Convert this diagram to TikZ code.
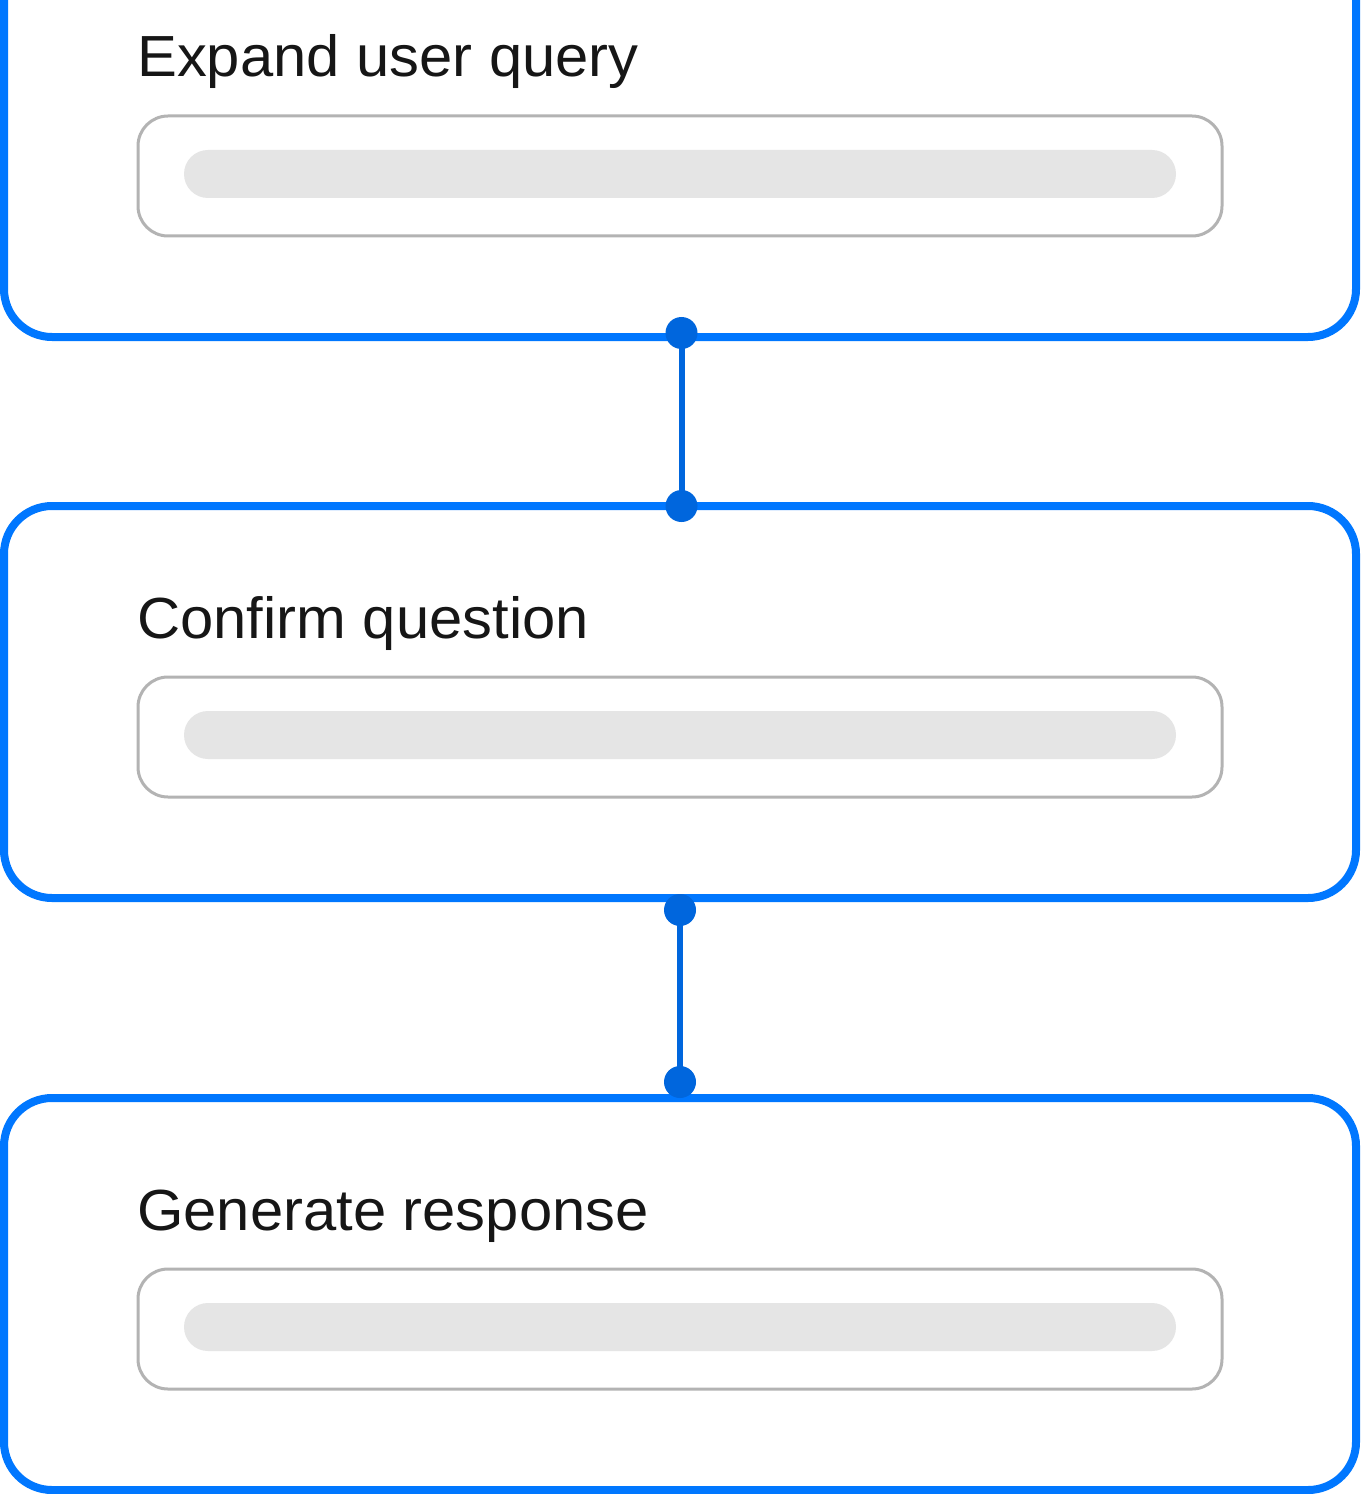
\documentclass[tikz,border=0pt]{standalone}
\usepackage{fontspec}
\setmainfont[FakeStretch=1.03,Ligatures=NoCommon]{Liberation Sans}
\definecolor{boxblue}{HTML}{0077FF}
\definecolor{dotblue}{HTML}{0066DD}
\definecolor{graystroke}{HTML}{B3B3B3}
\definecolor{barfill}{HTML}{E5E5E5}
\definecolor{txt}{HTML}{161616}
\tikzset{
  outerbox/.style={draw=boxblue, line width=6pt, rounded corners=36pt, fill=white,
    minimum width=1014pt, minimum height=294pt, inner sep=0pt, outer sep=0pt},
  innerbox/.style={draw=graystroke, line width=2.25pt, rounded corners=22.5pt,
    minimum width=813pt, minimum height=90pt, inner sep=0pt},
  barbox/.style={fill=barfill, rounded corners=18pt,
    minimum width=744pt, minimum height=36pt, inner sep=0pt},
  title/.style={anchor=base west, inner sep=0pt, text=txt, font=\fontsize{43.5pt}{50pt}\selectfont},
  dotnode/.style={circle, fill=dotblue, minimum size=24pt, inner sep=0pt},
  conn/.style={draw=dotblue, line width=4.5pt}
}
\begin{document}
\begin{tikzpicture}[x=0.75pt,y=-0.75pt]
\useasboundingbox (0,0) rectangle (1360,1494);
\clip (0,0) rectangle (1360,1494);
% outer boxes
\node[outerbox] (b1) at (680,141) {};
\node[outerbox] (b2) at (680,702) {};
\node[outerbox] (b3) at (680,1294) {};
% titles
\node[title] (t1) at (137,77) {Expand user query};
\node[title] (t2) at (137,638) {Confirm question};
\node[title] (t3) at (137,1230) {Generate response};
% inner boxes
\node[innerbox] (i1) at (680,176) {};
\node[innerbox] (i2) at (680,737) {};
\node[innerbox] (i3) at (680,1329) {};
\node[barbox] (r1) at (680,174) {};
\node[barbox] (r2) at (680,735) {};
\node[barbox] (r3) at (680,1327) {};
% connectors
\coordinate (d1c) at (681.5,333);
\coordinate (d2c) at (681.5,506);
\coordinate (d3c) at (680,910);
\coordinate (d4c) at (680,1082);
\draw[conn] (d1c) -- (d2c);
\draw[conn] (d3c) -- (d4c);
\node[dotnode] (d1) at (d1c) {};
\node[dotnode] (d2) at (d2c) {};
\node[dotnode] (d3) at (d3c) {};
\node[dotnode] (d4) at (d4c) {};
\end{tikzpicture}
\end{document}
